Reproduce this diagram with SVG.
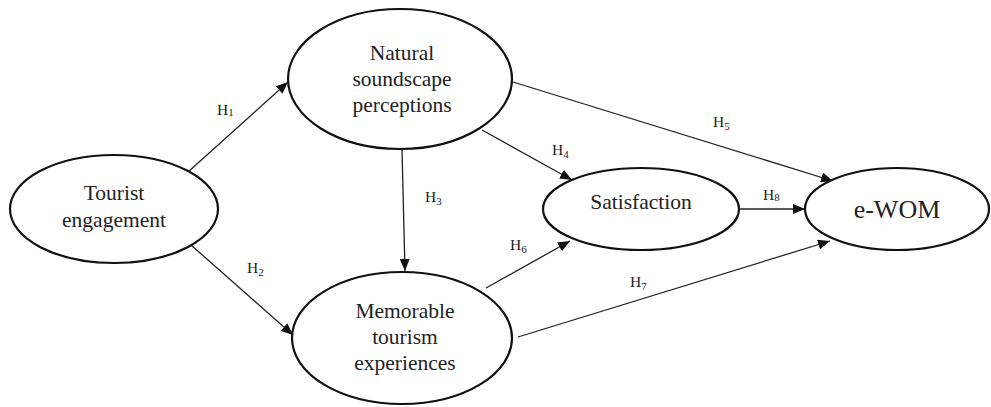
<svg xmlns="http://www.w3.org/2000/svg" width="991" height="407" viewBox="0 0 991 407">
<style>
.node ellipse{fill:#fff;stroke:#111;stroke-width:2.2}
.node text{font-family:"Liberation Serif","Times New Roman",serif;font-size:21.5px;fill:#222;text-anchor:middle}
.conn path{fill:none;stroke:#222;stroke-width:1.3;marker-end:url(#arr)}
.lbl{font-family:"Liberation Serif","Times New Roman",serif;font-size:15.5px;fill:#222}
.sub{font-size:11px}
</style>
<defs>
<marker id="arr" markerUnits="userSpaceOnUse" markerWidth="12" markerHeight="10" refX="12" refY="5" orient="auto">
<path d="M0,0 L12,5 L0,10 z" fill="#111"/>
</marker>
</defs>
<rect width="991" height="407" fill="#fff"/>
<g id="connectors" class="conn">
<path d="M188,172 L288,82"/>
<path d="M191,245 L293,335"/>
<path d="M402,149 L405,271"/>
<path d="M482,130 L572,180"/>
<path d="M513,82 L833,181"/>
<path d="M486,288 L570,241"/>
<path d="M518,337 L830,241"/>
<path d="M740,209 L805,209"/>
</g>
<g id="labels">
<text class="lbl" x="217" y="115">H<tspan class="sub" dy="1">1</tspan></text>
<text class="lbl" x="247" y="273">H<tspan class="sub" dy="3">2</tspan></text>
<text class="lbl" x="425" y="202">H<tspan class="sub" dy="3">3</tspan></text>
<text class="lbl" x="552" y="155">H<tspan class="sub" dy="3">4</tspan></text>
<text class="lbl" x="713" y="127">H<tspan class="sub" dy="3">5</tspan></text>
<text class="lbl" x="510" y="250">H<tspan class="sub" dy="3">6</tspan></text>
<text class="lbl" x="630" y="287">H<tspan class="sub" dy="3">7</tspan></text>
<text class="lbl" x="763" y="200">H<tspan class="sub" dy="1">8</tspan></text>
</g>
<g id="tourist-engagement" class="node">
<ellipse cx="114" cy="209" rx="104" ry="54"/>
<text x="114" y="200">Tourist</text>
<text x="114" y="227">engagement</text>
</g>
<g id="natural-soundscape" class="node">
<ellipse cx="400" cy="79" rx="112" ry="70"/>
<text x="402" y="60">Natural</text>
<text x="402" y="86">soundscape</text>
<text x="402" y="112">perceptions</text>
</g>
<g id="memorable-tourism" class="node">
<ellipse cx="402" cy="338" rx="110" ry="66"/>
<text x="405" y="318">Memorable</text>
<text x="405" y="344">tourism</text>
<text x="405" y="370">experiences</text>
</g>
<g id="satisfaction" class="node">
<ellipse cx="641" cy="209" rx="98" ry="41"/>
<text x="641" y="209">Satisfaction</text>
</g>
<g id="ewom" class="node">
<ellipse cx="897" cy="209" rx="92" ry="41"/>
<text x="897" y="218" style="font-size:26px">e-WOM</text>
</g>
</svg>
